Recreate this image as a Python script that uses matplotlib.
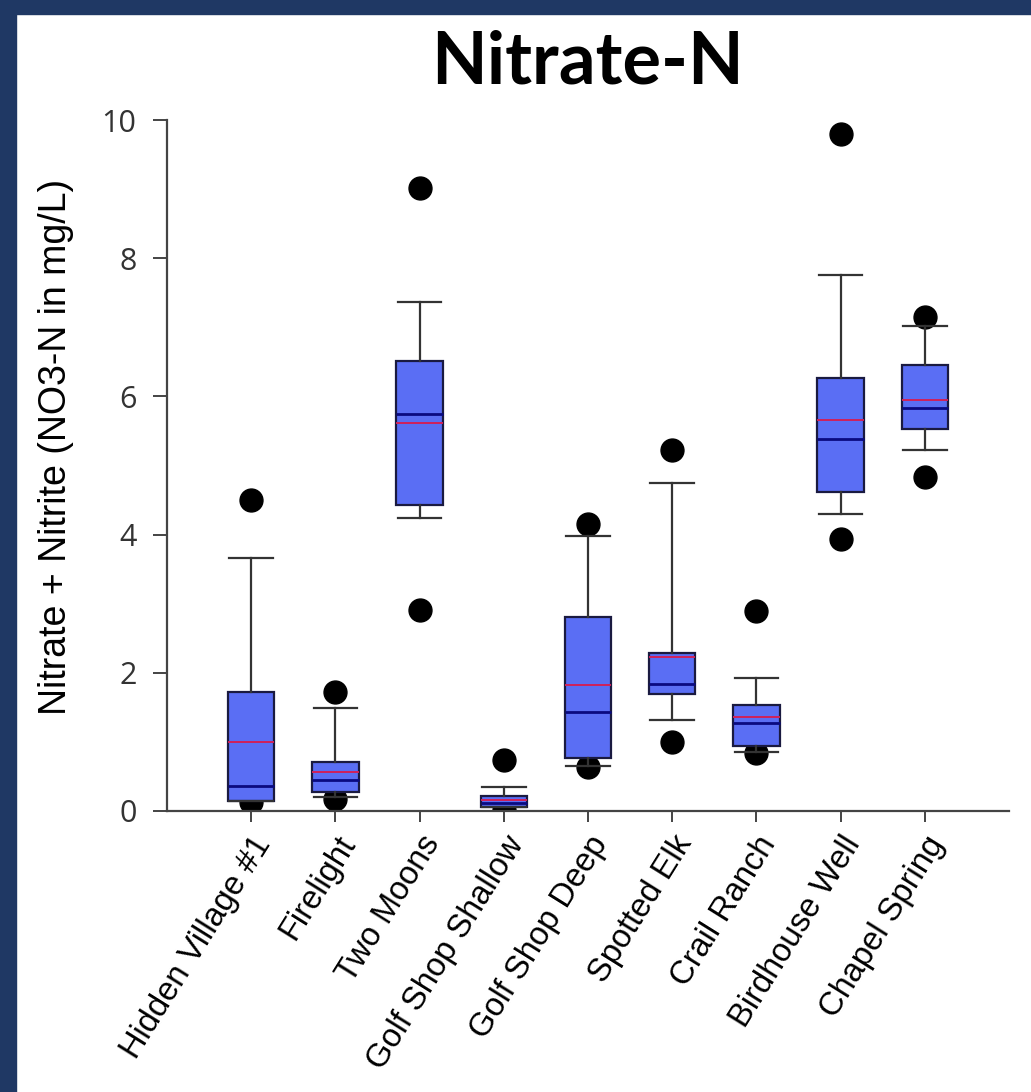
import matplotlib
matplotlib.use("Agg")
import matplotlib.pyplot as plt
from matplotlib.patches import Rectangle

sites = ["Hidden Village #1", "Firelight", "Two Moons", "Golf Shop Shallow",
         "Golf Shop Deep", "Spotted Elk", "Crail Ranch", "Birdhouse Well",
         "Chapel Spring"]

# box stats (mg/L)
q1 = [0.14, 0.27, 4.43, 0.06, 0.77, 1.69, 0.94, 4.62, 5.53]
median = [0.36, 0.45, 5.75, 0.12, 1.43, 1.84, 1.27, 5.38, 5.83]
mean = [1.00, 0.56, 5.62, 0.16, 1.82, 2.23, 1.36, 5.66, 5.95]
q3 = [1.72, 0.71, 6.51, 0.22, 2.81, 2.29, 1.53, 6.26, 6.45]
whis_lo = [0.14, 0.20, 4.24, 0.06, 0.65, 1.32, 0.85, 4.30, 5.22]
whis_hi = [3.66, 1.49, 7.37, 0.35, 3.98, 4.74, 1.92, 7.76, 7.02]
# 5th / 95th percentile dots
p05 = [0.13, 0.18, 2.91, 0.02, 0.63, 1.00, 0.84, 3.93, 4.83]
p95 = [4.50, 1.72, 9.02, 0.74, 4.15, 5.22, 2.89, 9.80, 7.15]

navy = "#1F3864"
box_blue = "#5A6EF4"

fig = plt.figure(figsize=(10.31, 10.92), dpi=100)
fig.patches.append(Rectangle((0, 0), 16 / 1031, 1, transform=fig.transFigure,
                             color=navy, zorder=10))
fig.patches.append(Rectangle((0, 1 - 14 / 1092), 1, 14 / 1092,
                             transform=fig.transFigure, color=navy, zorder=10))

ax = fig.add_axes([167 / 1031, 1 - 811 / 1092, (1009 - 167) / 1031, (811 - 120) / 1092])

stats = []
for i in range(len(sites)):
    stats.append({"label": sites[i], "q1": q1[i], "med": median[i], "mean": mean[i],
                  "q3": q3[i], "whislo": whis_lo[i], "whishi": whis_hi[i],
                  "fliers": []})

pos = list(range(1, len(sites) + 1))

ax.plot(pos, p05, "o", color="black", markersize=16.5, zorder=2, linestyle="none")
ax.plot(pos, p95, "o", color="black", markersize=16.5, zorder=2, linestyle="none")

ax.bxp(stats, positions=pos, widths=0.55, patch_artist=True,
       showmeans=True, meanline=True, showfliers=False,
       boxprops=dict(facecolor=box_blue, edgecolor="#1a1a40", linewidth=1.6),
       medianprops=dict(color="#0a0a80", linewidth=2),
       meanprops=dict(color="#d0205a", linestyle="-", linewidth=1.4),
       whiskerprops=dict(color="#333333", linewidth=1.6),
       capprops=dict(color="#333333", linewidth=1.6),
       capwidths=0.52, zorder=3)

ax.set_xlim(0, 10)
ax.set_ylim(0, 10)
ax.set_yticks([0, 2, 4, 6, 8, 10])
ax.set_xticks(pos)
ax.set_xticklabels(sites, rotation=58, ha="right", va="top", rotation_mode="anchor",
                   fontsize=23.5, family="Liberation Sans")
for lab in ax.get_yticklabels():
    lab.set_family(["Open Sans", "DejaVu Sans"])
    lab.set_fontsize(22)
    lab.set_color("#333333")

for s in ["top", "right"]:
    ax.spines[s].set_visible(False)
for s in ["left", "bottom"]:
    ax.spines[s].set_color("#444444")
    ax.spines[s].set_linewidth(1.6)
ax.tick_params(axis="y", length=10, width=1.4, color="#444444", pad=12)
ax.tick_params(axis="x", length=8, width=1.4, color="#444444", pad=6)

ax.set_ylabel("Nitrate + Nitrite (NO3-N in mg/L)", fontsize=27,
              family="Liberation Sans")
ax.yaxis.set_label_coords(-0.11, 0.527)

fig.text(0.57, 1 - 83 / 1092, "Nitrate-N", fontsize=52, fontweight="bold",
         family=["Lato", "DejaVu Sans"], ha="center", va="baseline")

plt.savefig("out.png", dpi=100)
